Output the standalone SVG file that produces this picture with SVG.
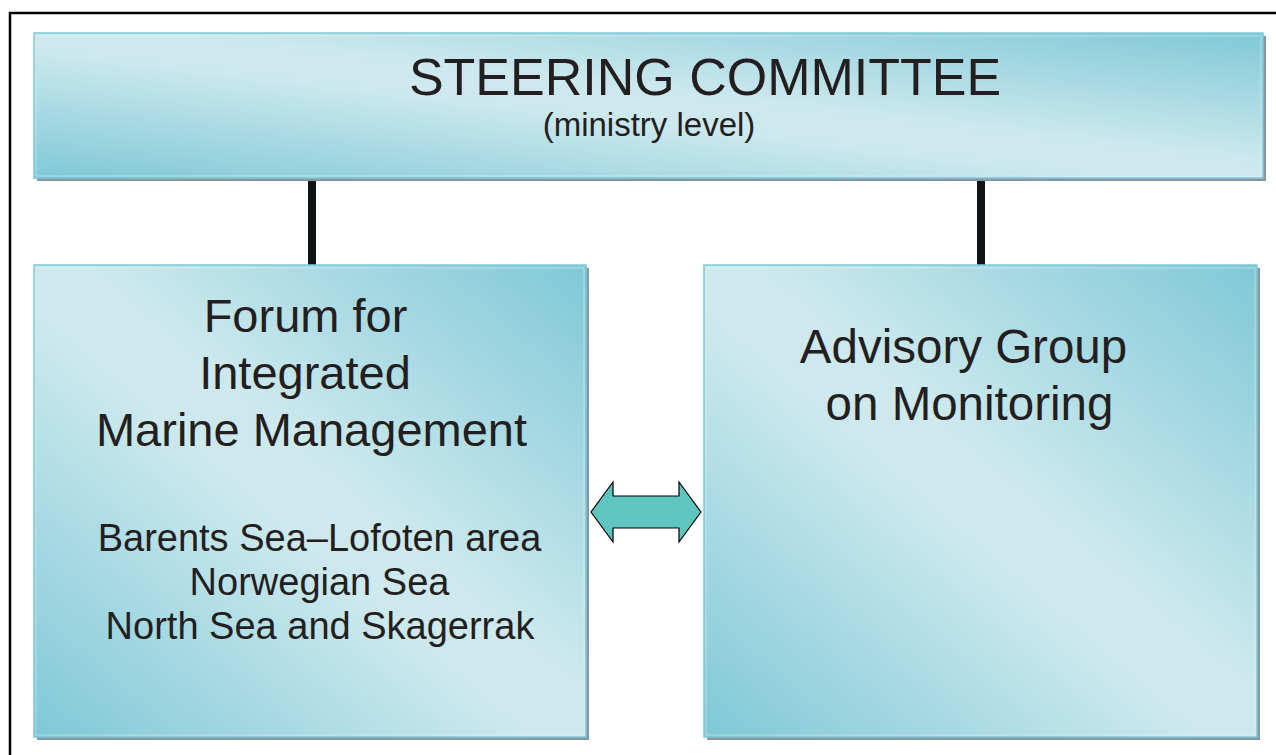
<svg xmlns="http://www.w3.org/2000/svg" width="1276" height="755" viewBox="0 0 1276 755">
<defs>
<linearGradient id="g" x1="0" y1="1" x2="1" y2="0">
<stop offset="0" stop-color="#7fc8d6"/>
<stop offset="0.45" stop-color="#cde9ee"/>
<stop offset="0.55" stop-color="#cde9ee"/>
<stop offset="1" stop-color="#7fc8d6"/>
</linearGradient>
<style>
.shadow{fill:#8796a0}
.box{fill:url(#g);stroke:#7fc9d6;stroke-width:1.5}
.inner{fill:none;stroke:#e2f3f6;stroke-opacity:0.5;stroke-width:1}
.t{fill:#231f20;text-anchor:middle}
.conn{stroke:#111416;stroke-width:8}
</style>
</defs>
<rect width="1276" height="755" fill="#fff"/>
<rect x="10" y="13" width="1300" height="800" fill="none" stroke="#000" stroke-width="2.5"/>
<g id="connectors">
<line class="conn" x1="312" y1="176" x2="312" y2="266"/>
<line class="conn" x1="981" y1="176" x2="981" y2="266"/>
<polygon points="591,512 613,482 613,496 679,496 679,482 701,512 679,542 679,528 613,528 613,542" fill="#5ec5bf" stroke="#000" stroke-width="1.2" stroke-linejoin="miter"/>
</g>
<g font-family="Liberation Sans, Arial, Helvetica, sans-serif">
<g id="steering">
<rect class="shadow" x="37" y="36" width="1229" height="145"/>
<rect class="box" x="34" y="33" width="1229" height="145"/>
<rect class="inner" x="36" y="36" width="1225" height="140"/>
<text class="t" x="705" y="95" font-size="52">STEERING COMMITTEE</text>
<text class="t" x="649" y="136" font-size="33">(ministry level)</text>
</g>
<g id="forum">
<rect class="shadow" x="37" y="268" width="552" height="472"/>
<rect class="box" x="34" y="265" width="552" height="472"/>
<rect class="inner" x="36" y="268" width="548" height="467"/>
<text class="t" x="305.5" y="332" font-size="47">Forum for</text>
<text class="t" x="305" y="389" font-size="47">Integrated</text>
<text class="t" x="311.5" y="446" font-size="47">Marine Management</text>
<text class="t" x="319.5" y="551" font-size="38">Barents Sea–Lofoten area</text>
<text class="t" x="319.5" y="595" font-size="38">Norwegian Sea</text>
<text class="t" x="320" y="639" font-size="38">North Sea and Skagerrak</text>
</g>
<g id="advisory">
<rect class="shadow" x="707" y="268" width="553" height="472"/>
<rect class="box" x="704" y="265" width="553" height="472"/>
<rect class="inner" x="706" y="268" width="549" height="467"/>
<text class="t" x="963.5" y="363" font-size="47.5">Advisory Group</text>
<text class="t" x="969.5" y="420" font-size="47.5">on Monitoring</text>
</g>
</g>
</svg>
